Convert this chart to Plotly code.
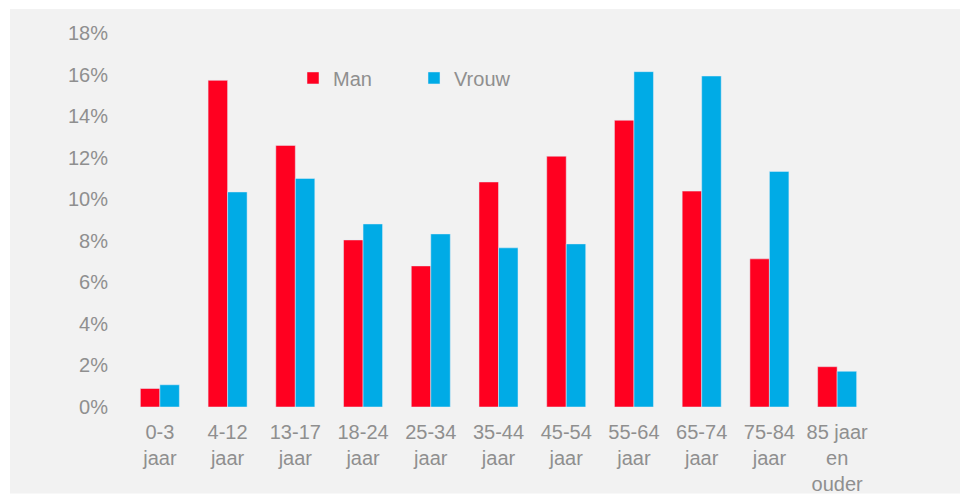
import plotly.graph_objects as go

categories = ["0-3<br>jaar", "4-12<br>jaar", "13-17<br>jaar", "18-24<br>jaar", "25-34<br>jaar",
              "35-44<br>jaar", "45-54<br>jaar", "55-64<br>jaar", "65-74<br>jaar", "75-84<br>jaar",
              "85 jaar<br>en<br>ouder"]
man = [0.89, 15.72, 12.59, 8.04, 6.79, 10.83, 12.07, 13.80, 10.39, 7.13, 1.94]
vrouw = [1.07, 10.35, 11.00, 8.81, 8.33, 7.66, 7.85, 16.14, 15.93, 11.34, 1.72]
y_ticks = [0, 2, 4, 6, 8, 10, 12, 14, 16, 18]
y_tick_labels = [f"{v}%" for v in y_ticks]

W, H = 960, 494
L, R, T, B = 126, 89, 33, 86.5
pw, ph = W - L - R, H - T - B

fig = go.Figure()
fig.add_trace(go.Bar(name="Man", x=categories, y=man, marker_color="#ff0020"))
fig.add_trace(go.Bar(name="Vrouw", x=categories, y=vrouw, marker_color="#00abe6"))

fig.add_shape(type="rect", xref="paper", yref="paper", layer="below",
              x0=(10 - L) / pw, x1=(W - L) / pw,
              y0=-B / ph, y1=(H - B - 9) / ph,
              fillcolor="#f2f2f2", line_width=0)

fig.update_layout(
    width=W, height=H,
    margin=dict(l=L, r=R, t=T, b=B, pad=0, autoexpand=False),
    paper_bgcolor="white", plot_bgcolor="rgba(0,0,0,0)",
    barmode="group", bargap=0.424, bargroupgap=0,
    font=dict(family="Liberation Sans, Arial", size=20, color="#8f8f8f"),
    showlegend=True,
    legend=dict(orientation="h", x=(312 - 19 - L) / pw, y=(H - B - 78) / ph,
                xanchor="left", yanchor="middle",
                bgcolor="rgba(0,0,0,0)", font=dict(size=20, color="#8f8f8f"), entrywidth=76),
    yaxis=dict(range=[0, 18], tickvals=y_ticks, ticktext=y_tick_labels, showgrid=False, zeroline=False,
               showline=False, ticks="", ticklabelstandoff=17, automargin=False),
    xaxis=dict(showgrid=False, showline=False, ticks="", tickangle=0, ticklabelstandoff=11,
               automargin=False),
)

fig.write_html("out.html", config={"displayModeBar": False},
               post_script="document.body.style.margin='0';document.body.style.overflow='hidden';")
